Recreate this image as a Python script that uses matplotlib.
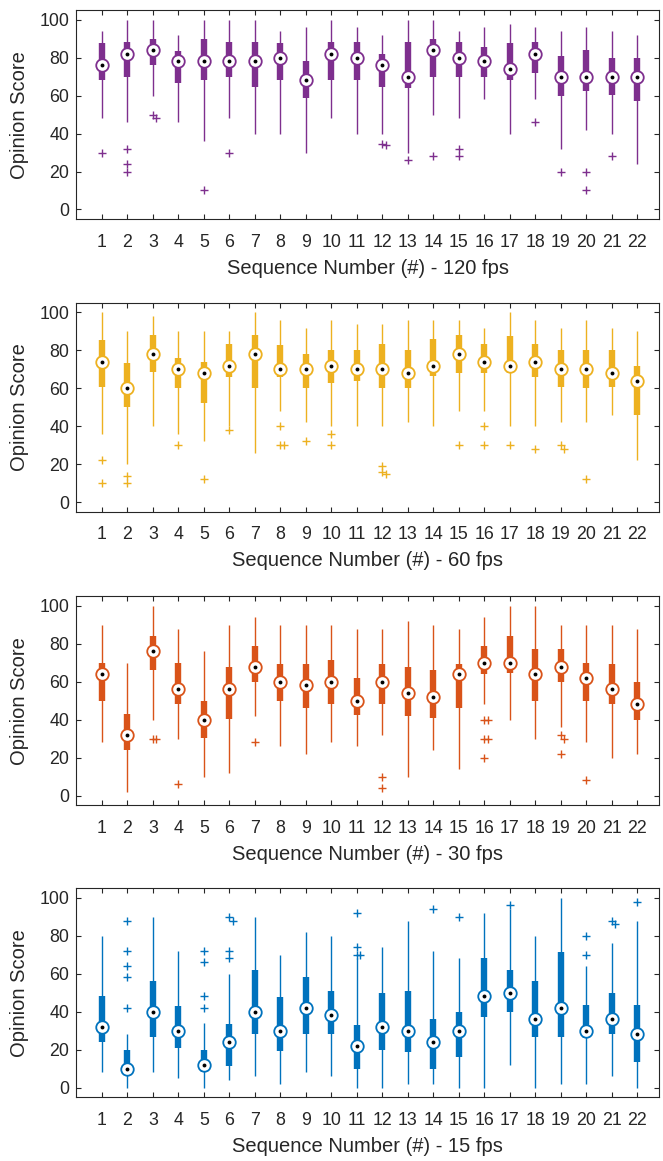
import numpy as np
import matplotlib
matplotlib.use('Agg')
import matplotlib.pyplot as plt

plt.rcParams['font.family'] = ['Liberation Sans', 'DejaVu Sans']

seq = list(range(1, 23))

# 120 fps
med_120 = [76, 82, 84, 78, 78, 78, 78, 80, 68, 82, 80, 76, 70, 84, 80, 78, 74, 82, 70, 70, 70, 70]
q1_120 = [68, 70, 76, 66.5, 68, 70, 64.5, 68, 58.5, 68, 68, 64.5, 64, 70, 70, 70, 68, 72, 60, 62.5, 60.5, 57]
q3_120 = [87.5, 88, 90, 83.5, 90, 88, 88, 87.5, 78, 88, 88, 82, 88, 90, 88, 85.5, 87.5, 88, 81, 84, 80, 80]
lo_120 = [48, 46, 60, 46, 36, 48, 40, 40, 30, 48, 40, 40, 30, 50, 48, 58, 40, 58, 32, 42, 40, 24]
hi_120 = [94, 100, 100, 92, 100, 100, 100, 94, 96, 100, 96, 92, 100, 100, 94, 96, 98, 96, 94, 96, 94, 92]
out_120 = [[30], [32, 24, 20], [50, 48], [], [10], [30], [], [], [], [], [], [34.5, 34],
           [26], [28], [32, 28], [], [], [46], [20], [20, 10], [28], []]

# 60 fps
med_60 = [74, 60, 78, 70, 68, 72, 78, 70, 70, 72, 70, 70, 68, 72, 78, 74, 72, 74, 70, 70, 68, 64]
q1_60 = [60.5, 50, 68.5, 60, 52.5, 66, 60, 66, 60, 63, 64, 60, 60, 66.6, 68, 68, 68, 66, 60.5, 60, 60.5, 46]
q3_60 = [85.4, 73.5, 88, 76, 74, 83.5, 88, 83, 78, 80, 80, 83.5, 80, 86, 88, 83.5, 87.3, 83.5, 80, 80, 80, 72]
lo_60 = [36, 20, 40, 36, 32, 40, 26, 48, 42, 40, 40, 40, 42, 40, 48, 48, 40, 40, 42, 42, 46, 22]
hi_60 = [100, 90, 98, 90, 90, 90, 100, 96, 92, 96, 94, 94, 96, 96, 96, 92, 100, 96, 92, 96, 92, 90]
out_60 = [[22, 10], [14, 10], [], [30], [12], [38], [], [40, 30, 30], [32], [36, 30], [], [19, 16, 15],
          [], [], [30], [40, 30], [30], [28], [30, 28], [12], [], []]

# 30 fps
med_30 = [64, 32, 76, 56, 40, 56, 68, 60, 58, 60, 50, 60, 54, 52, 64, 70, 70, 64, 68, 62, 56, 48]
q1_30 = [50, 24, 66, 48, 30.4, 40.5, 60, 50, 46.3, 48, 42.5, 48, 42, 41, 46.3, 64, 64.4, 50, 60, 50, 48, 40]
q3_30 = [70, 43, 84, 70, 50, 68, 79, 69.3, 69.3, 71.4, 62, 69.3, 68, 66, 69.3, 79, 84, 77.4, 77.4, 70, 69.3, 60]
lo_30 = [28, 2, 40, 30, 10, 12, 42, 26, 22, 28, 26, 32, 10, 24, 14, 48, 40, 30, 36, 28, 20, 22]
hi_30 = [90, 70, 100, 88, 76, 90, 94, 90, 90, 90, 88, 88, 92, 90, 88, 94, 100, 100, 90, 90, 90, 88]
out_30 = [[], [], [30, 30], [6], [], [], [28], [], [], [], [], [10, 4], [], [], [],
          [40, 40, 30, 30, 20], [], [], [32, 30, 22], [8], [], []]

# 15 fps
med_15 = [32, 10, 40, 30, 12, 24, 40, 30, 42, 38, 22, 32, 30, 24, 30, 48, 50, 36, 42, 30, 36, 28]
q1_15 = [24, 8, 26.5, 21, 8, 11.4, 28, 19, 28, 28, 10, 20, 18.6, 10, 16, 37, 40, 26.5, 26.5, 26, 28, 13.5]
q3_15 = [48, 20, 56, 43, 20, 33.3, 62, 47.5, 58, 51, 33, 50, 51, 36, 40, 68, 62, 56, 71.4, 43.3, 50, 43.3]
lo_15 = [8, 0, 8, 5, 0, 4, 6, 2, 8, 6, 0, 0, 2, 2, 0, 0, 12, 0, 2, 2, 6, 0]
hi_15 = [80, 28, 90, 72, 34, 60, 90, 70, 82, 80, 68, 74, 88, 72, 68, 92, 94, 80, 100, 64, 76, 88]
out_15 = [[], [88, 72, 64, 58, 42], [], [], [72, 66, 48, 42], [90, 88, 72, 68], [], [], [], [],
          [92, 74, 70, 70], [], [], [94], [90], [], [96], [], [], [80, 70], [88, 86], [98]]

panels = [
    ('120 fps', '#7E2F8E', med_120, q1_120, q3_120, lo_120, hi_120, out_120),
    ('60 fps', '#EDB120', med_60, q1_60, q3_60, lo_60, hi_60, out_60),
    ('30 fps', '#D95319', med_30, q1_30, q3_30, lo_30, hi_30, out_30),
    ('15 fps', '#0072BD', med_15, q1_15, q3_15, lo_15, hi_15, out_15),
]

fig = plt.figure(figsize=(6.63, 11.61), dpi=100)
bottoms = [0.8114, 0.5593, 0.3066, 0.0551]
dark = '#262626'

for (name, col, med, q1, q3, lo, hi, outs), b in zip(panels, bottoms):
    ax = fig.add_axes([0.1146, b, 0.880, 0.1798])
    x = np.array(seq)
    ax.vlines(x, lo, hi, color=col, lw=1.0, zorder=2)
    ax.vlines(x, q1, q3, color=col, lw=4.6, zorder=3, capstyle='butt')
    ax.plot(x, med, 'o', ms=9, mfc='white', mec=col, mew=1.3, zorder=4, ls='none')
    ax.plot(x, med, 'o', ms=2.8, mfc='black', mec='black', mew=0, zorder=5, ls='none')
    for xi, vals in zip(seq, outs):
        seen = []
        for v in vals:
            n = sum(1 for s in seen if abs(s - v) < 2.5)
            off = [0, 0.12, -0.12, 0.24][min(n, 3)]
            seen.append(v)
            ax.plot(xi + off, v, '+', color=col, ms=5.5, mew=1.0, zorder=3)

    ax.set_xlim(-0.02, 22.86)
    ax.set_ylim(-5, 105)
    ax.set_xticks(seq)
    ax.set_yticks([0, 20, 40, 60, 80, 100])
    ax.tick_params(direction='in', length=3.5, width=0.8, colors=dark,
                   top=True, right=True, labelsize=12.8)
    ax.tick_params(axis='x', pad=10.5)
    ax.tick_params(axis='y', pad=5)
    for s in ax.spines.values():
        s.set_color(dark)
        s.set_linewidth(0.8)
    ax.set_xlabel('Sequence Number (#) - ' + name, fontsize=14.5, color=dark)
    ax.set_ylabel('Opinion Score', fontsize=14.5, color=dark)
    ax.xaxis.set_label_coords(0.5, -0.19)
    ax.yaxis.set_label_coords(-0.08, 0.5)

fig.savefig('out.png', dpi=100)
